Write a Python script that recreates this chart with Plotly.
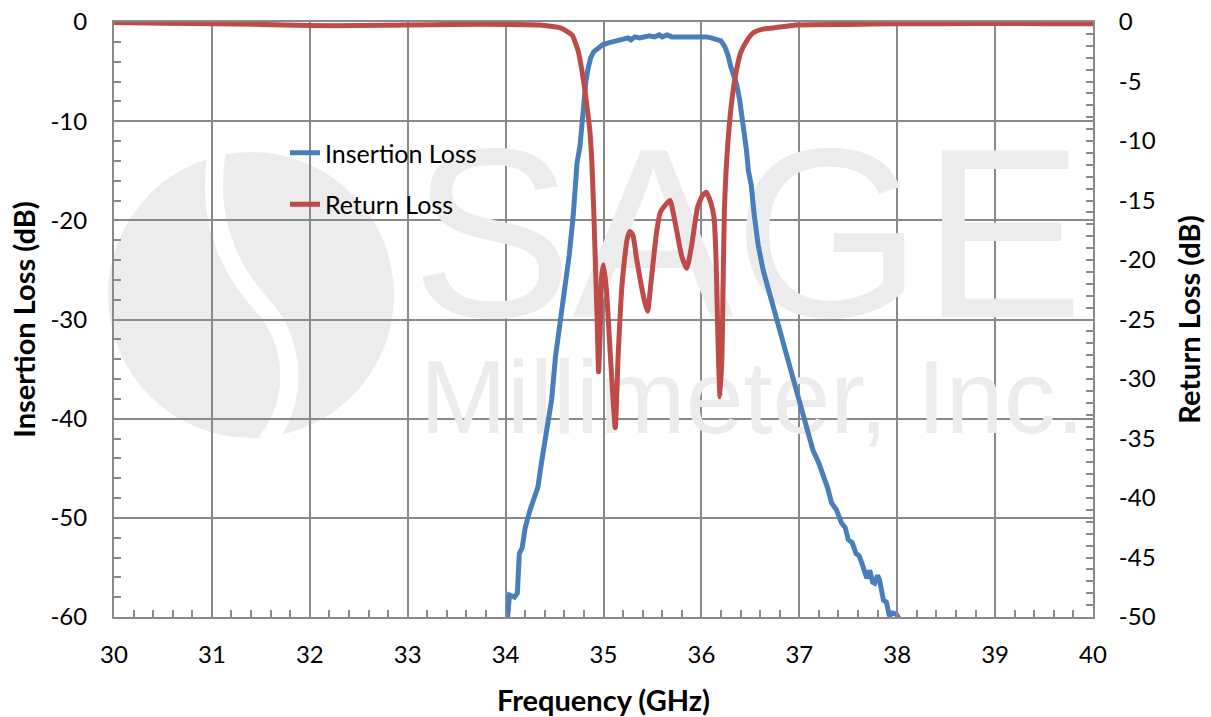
import plotly.graph_objects as go

# Insertion loss (left axis)
il_freq = [34.00, 34.02, 34.04, 34.09, 34.12, 34.14, 34.17, 34.20, 34.25, 34.28,
           34.33, 34.37, 34.42, 34.47, 34.51, 34.56, 34.60, 34.65, 34.69, 34.73,
           34.76, 34.79, 34.82, 34.84, 34.87, 34.90, 34.95, 34.99, 35.05, 35.10,
           35.17, 35.22, 35.25, 35.28, 35.32, 35.37, 35.42, 35.47, 35.52, 35.57,
           35.60, 35.65, 35.70, 35.75, 35.80, 35.85, 35.90, 35.95, 35.99, 36.05,
           36.10, 36.15, 36.20, 36.24, 36.27, 36.30, 36.33, 36.36, 36.39, 36.41,
           36.44, 36.46, 36.48, 36.51, 36.54, 36.58, 36.63, 36.68, 36.74, 36.81,
           36.87, 36.92, 36.98, 37.04, 37.09, 37.14, 37.20, 37.25, 37.29, 37.33,
           37.38, 37.43, 37.47, 37.50, 37.54, 37.58, 37.61, 37.64, 37.67, 37.69,
           37.72, 37.75, 37.77, 37.80, 37.82, 37.84, 37.86, 37.89, 37.92, 37.95,
           37.99, 38.02, 38.05]
il_db = [-61.0, -60.0, -57.8, -58.0, -57.6, -53.6, -53.0, -51.0, -49.2, -48.2,
         -46.9, -44.2, -41.1, -38.1, -33.7, -30.0, -27.7, -23.5, -19.6, -14.2,
         -12.5, -8.9, -6.0, -4.8, -3.6, -3.0, -2.6, -2.3, -2.1, -2.0,
         -1.8, -1.7, -1.6, -1.8, -1.5, -1.6, -1.5, -1.4, -1.5, -1.3,
         -1.5, -1.3, -1.5, -1.5, -1.4, -1.4, -1.5, -1.4, -1.5, -1.5,
         -1.6, -1.7, -1.9, -2.5, -3.3, -4.5, -5.5, -6.3, -7.8, -9.2,
         -11.3, -12.9, -15.0, -16.5, -19.5, -22.5, -25.0, -26.8, -29.0, -31.3,
         -33.5, -35.4, -37.5, -40.0, -41.8, -43.2, -44.5, -45.8, -47.0, -48.5,
         -49.2, -50.5, -51.0, -52.2, -52.5, -53.6, -53.8, -54.6, -55.8, -56.1,
         -55.3, -56.5, -56.6, -55.8, -56.3, -57.5, -58.3, -58.5, -59.9, -59.6,
         -59.7, -60.2, -61.0]

# Return loss (right axis)
rl_freq = [30.00, 30.50, 31.00, 31.50, 32.00, 32.50, 33.00, 33.50, 34.00, 34.35,
           34.50, 34.56, 34.63, 34.68, 34.74, 34.79, 34.83, 34.86, 34.88, 34.90,
           34.92, 34.935, 34.95, 34.965, 34.98, 35.00, 35.03, 35.07, 35.12, 35.15,
           35.19, 35.24, 35.27, 35.30, 35.34, 35.42, 35.45, 35.49, 35.54, 35.58,
           35.64, 35.68, 35.74, 35.80, 35.85, 35.90, 35.96, 36.01, 36.05, 36.10,
           36.13, 36.15, 36.17, 36.19, 36.21, 36.22, 36.235, 36.27, 36.32, 36.36,
           36.40, 36.47, 36.53, 36.63, 36.73, 36.97, 37.50, 38.00, 38.50, 39.00,
           39.50, 40.00]
rl_db = [-0.05, -0.1, -0.15, -0.2, -0.3, -0.3, -0.25, -0.2, -0.2, -0.25,
         -0.4, -0.5, -0.8, -1.1, -2.4, -4.6, -7.0, -9.1, -11.6, -15.8,
         -21.0, -25.0, -29.4, -26.5, -21.5, -20.4, -22.5, -28.0, -34.1, -28.0,
         -22.0, -18.3, -17.6, -17.9, -20.0, -23.5, -24.3, -21.5, -17.8, -16.0,
         -15.3, -15.0, -17.2, -19.7, -20.7, -18.8, -15.6, -14.6, -14.3, -15.3,
         -16.5, -20.0, -27.0, -31.5, -28.0, -23.0, -15.8, -10.2, -6.0, -4.0,
         -2.6, -1.5, -0.9, -0.6, -0.5, -0.25, -0.2, -0.15, -0.15, -0.1,
         -0.15, -0.15]

x_ticks = list(range(30, 41))
il_ticks = list(range(-60, 1, 10))
rl_ticks = list(range(-50, 1, 5))

FONT = 'Lato, "Open Sans", sans-serif'
GRID = '#8a8a8a'
WM = '#ececec'

W, H = 1211, 717
# plot area in pixels (as seen in the reference)
L, R, T, B = 114, 1093, 22, 617


def px(x):
    return (x - L) / (R - L)


def py(y):
    return (B - y) / (B - T)


fig = go.Figure()

# watermark text
fig.add_trace(go.Scatter(x=[36.47], y=[-23.6], mode='text', text=['SAGE'],
                         textfont=dict(size=242, color=WM, family='Liberation Sans, Arial'),
                         hoverinfo='skip', showlegend=False))
fig.add_trace(go.Scatter(x=[36.52], y=[-38.8], mode='text', text=['Millimeter, Inc.'],
                         textfont=dict(size=104, color=WM, family='Liberation Sans, Arial'),
                         hoverinfo='skip', showlegend=False))

fig.add_trace(go.Scatter(x=il_freq, y=il_db, mode='lines', name='Insertion Loss',
                         line=dict(color='#4a7ebb', width=5), legendgroup='il'))
fig.add_trace(go.Scatter(x=rl_freq, y=rl_db, mode='lines', name='Return Loss',
                         line=dict(color='#be4b48', width=5, shape='spline', smoothing=0.5),
                         legendgroup='rl', yaxis='y2'))

# watermark logo: grey disc with a white S swirl
fig.add_shape(type='circle', xref='paper', yref='paper',
              x0=px(108), x1=px(394), y0=py(438), y1=py(152),
              fillcolor=WM, line_width=0, layer='below')
pts = [(217, 150), (205, 220), (230, 270), (262, 305),
       (295, 340), (300, 400), (266, 442)]
p = [(px(a), py(b)) for a, b in pts]
path = 'M {:.4f},{:.4f} C {:.4f},{:.4f} {:.4f},{:.4f} {:.4f},{:.4f} C {:.4f},{:.4f} {:.4f},{:.4f} {:.4f},{:.4f}'.format(
    *[v for q in p for v in q])
fig.add_shape(type='path', xref='paper', yref='paper', path=path,
              line=dict(color='white', width=18), layer='below')

tickfont = dict(family=FONT, size=24, color='black')
titlefont = dict(family=FONT, size=29, color='black', weight='bold')
minor_style = dict(ticks='inside', ticklen=7, tickcolor=GRID, tickwidth=2, showgrid=False)

fig.update_layout(
    width=W, height=H,
    margin=dict(l=L, r=W - R, t=T, b=H - B, autoexpand=False),
    plot_bgcolor='white', paper_bgcolor='white',
    font=dict(family=FONT, color='black'),
    xaxis=dict(range=[30, 40], tickvals=x_ticks, ticktext=[str(v) for v in x_ticks],
               showgrid=True, gridcolor=GRID, gridwidth=2,
               showline=True, linecolor=GRID, linewidth=2, mirror=True,
               ticks='inside', ticklen=7, tickcolor=GRID, tickwidth=2,
               minor=dict(dtick=0.2, **minor_style),
               tickfont=tickfont, ticklabelstandoff=15,
               zeroline=False, automargin=False,
               title=dict(text='Frequency (GHz)', font=titlefont, standoff=24)),
    yaxis=dict(range=[-60, 0], tickvals=il_ticks, ticktext=[str(v) for v in il_ticks],
               showgrid=True, gridcolor=GRID, gridwidth=2,
               showline=True, linecolor=GRID, linewidth=2,
               ticks='inside', ticklen=7, tickcolor=GRID, tickwidth=2,
               minor=dict(dtick=2, **minor_style),
               tickfont=tickfont, ticklabelstandoff=20,
               zeroline=False, automargin=False,
               title=dict(text='Insertion Loss (dB)', font=titlefont, standoff=6)),
    yaxis2=dict(range=[-50, 0], tickvals=rl_ticks, ticktext=[str(v) for v in rl_ticks],
                overlaying='y', side='right', showgrid=False,
                showline=True, linecolor=GRID, linewidth=2,
                ticks='inside', ticklen=7, tickcolor=GRID, tickwidth=2,
                minor=dict(dtick=1, **minor_style),
                tickfont=tickfont, ticklabelstandoff=19,
                zeroline=False, automargin=False,
                title=dict(text='Return Loss (dB)', font=titlefont, standoff=25)),
    legend=dict(x=px(285), y=py(130), xanchor='left', yanchor='top',
                bgcolor='rgba(0,0,0,0)', font=dict(family=FONT, size=25, color='black'),
                tracegroupgap=16, traceorder='grouped'),
    showlegend=True,
)

# drop the default 8px page margin so the figure fills the window exactly
fig.write_html('out.html', config={'displayModeBar': False},
               post_script="document.body.style.margin='0';")
